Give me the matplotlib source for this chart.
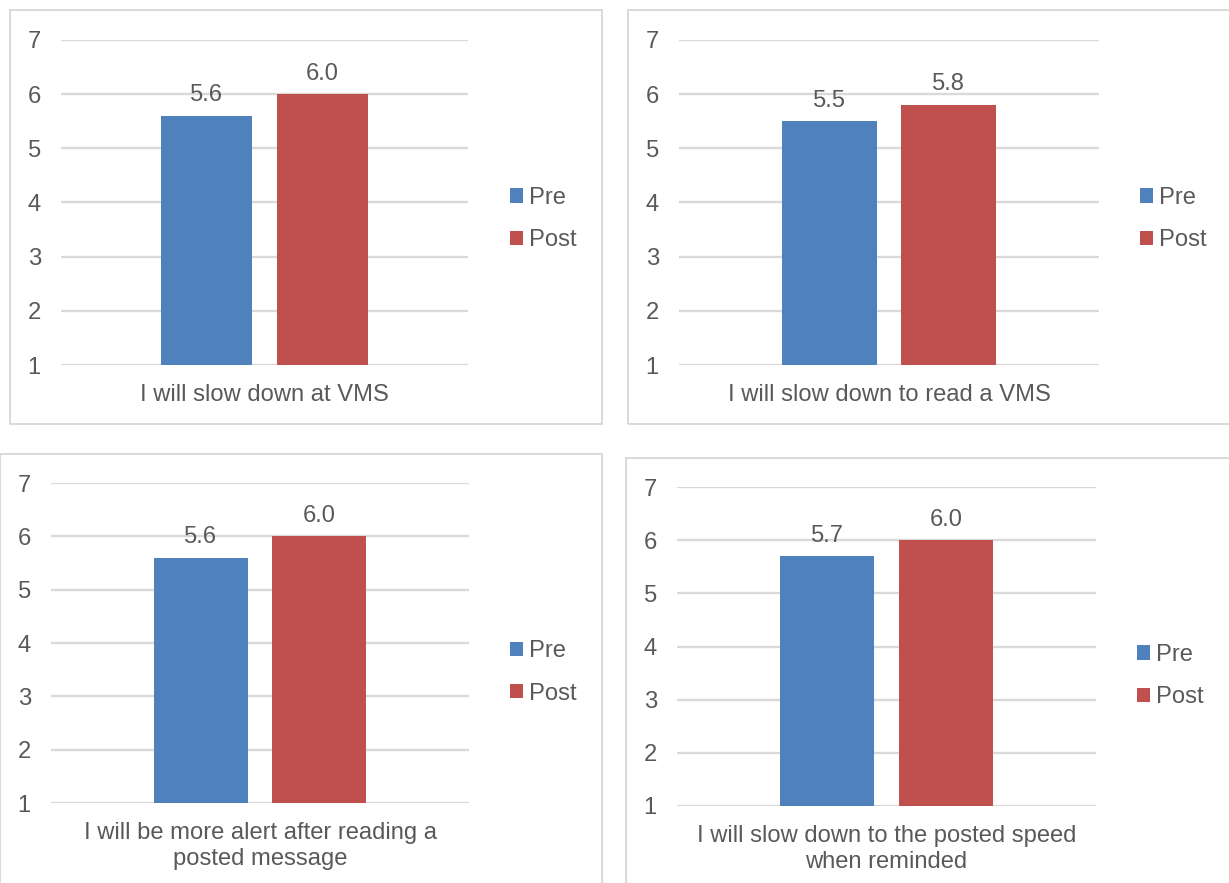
import matplotlib
matplotlib.use("Agg")
import matplotlib.pyplot as plt
from matplotlib.patches import Rectangle, Patch

# Survey statements and mean agreement scores (1-7 scale)
statements = [
    "I will slow down at VMS",
    "I will slow down to read a VMS",
    "I will be more alert after reading a\nposted message",
    "I will slow down to the posted speed\nwhen reminded",
]
pre_scores = [5.6, 5.5, 5.6, 5.7]
post_scores = [6.0, 5.8, 6.0, 6.0]
series_names = ["Pre", "Post"]
y_ticks = [1, 2, 3, 4, 5, 6, 7]

PRE_COLOR = "#4F81BD"
POST_COLOR = "#C0504D"
TEXT_COLOR = "#595959"
GRID_COLOR = "#D9D9D9"
FS = 17.1

W, H = 1229, 883
plt.rcParams["font.family"] = ["Liberation Sans", "DejaVu Sans"]
fig = plt.figure(figsize=(W / 100, H / 100), dpi=100)
fig.patch.set_facecolor("white")


def fx(px):
    return px / W


def fy(py):
    return 1 - py / H


# Per-panel layout in pixels: frame box, plot area, legend anchor
panels = [
    dict(box=(10, 10, 602, 424), plot=(61, 40, 468, 365), leg=(510, 219)),
    dict(box=(628, 10, 1240, 424), plot=(679, 40, 1099, 365), leg=(1140, 219)),
    dict(box=(0, 454, 602, 900), plot=(51, 483, 469, 803), leg=(510, 672.5)),
    dict(box=(626, 458, 1240, 900), plot=(677, 487, 1096, 806), leg=(1137, 676)),
]

bar_w = 0.225
offset = 0.142

for i, p in enumerate(panels):
    bx0, by0, bx1, by1 = p["box"]
    frame = Rectangle((fx(bx0), fy(by1)), fx(bx1 - bx0), (by1 - by0) / H,
                      transform=fig.transFigure, facecolor="none",
                      edgecolor=GRID_COLOR, linewidth=1.4, clip_on=False,
                      zorder=0)
    fig.add_artist(frame)

    x0, y0, x1, y1 = p["plot"]
    ax = fig.add_axes([fx(x0), fy(y1), fx(x1 - x0), (y1 - y0) / H])
    ax.set_facecolor("none")

    vals = [pre_scores[i], post_scores[i]]
    xs = [-offset, offset]
    cols = [PRE_COLOR, POST_COLOR]
    ax.bar(xs, vals, width=bar_w, color=cols, zorder=2)
    for x, v in zip(xs, vals):
        ax.annotate(f"{v:.1f}", xy=(x, v), xytext=(0, 10.5),
                    textcoords="offset points", ha="center", va="baseline",
                    fontsize=FS, color=TEXT_COLOR)

    ax.set_xlim(-0.5, 0.5)
    ax.set_ylim(1, 7)
    ax.set_yticks(y_ticks)
    ax.set_yticklabels([str(t) for t in y_ticks])
    ax.set_xticks([0])
    ax.set_xticklabels([statements[i]])
    ax.tick_params(axis="y", length=0, pad=14.5, labelsize=FS,
                   labelcolor=TEXT_COLOR)
    ax.tick_params(axis="x", length=0, pad=13.5, labelsize=FS,
                   labelcolor=TEXT_COLOR)
    for lbl in ax.get_xticklabels():
        lbl.set_linespacing(1.25)
        lbl.set_multialignment("center")
    ax.grid(axis="y", color=GRID_COLOR, linewidth=1.7, zorder=0)
    ax.set_axisbelow(True)
    for s in ax.spines.values():
        s.set_visible(False)

    handles = [Patch(facecolor=PRE_COLOR), Patch(facecolor=POST_COLOR)]
    lx, ly = p["leg"]
    ax.legend(handles, series_names, loc="center left",
              bbox_to_anchor=(fx(lx), fy(ly)), bbox_transform=fig.transFigure,
              frameon=False, fontsize=FS, labelcolor=TEXT_COLOR,
              handlelength=0.55, handleheight=0.55, handletextpad=0.25,
              labelspacing=0.85, borderpad=0, borderaxespad=0)

fig.savefig("out.png", dpi=100, facecolor="white")
